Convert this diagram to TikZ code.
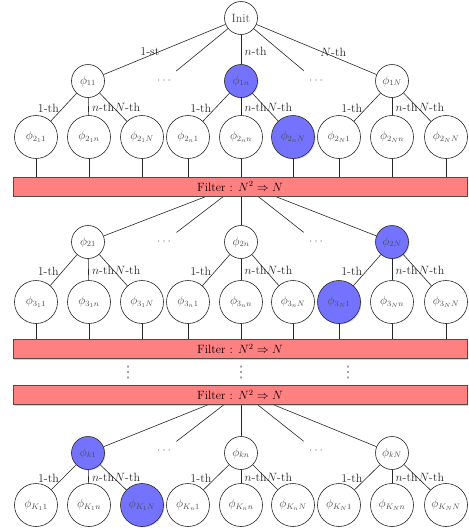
\documentclass[tikz,border=0pt]{standalone}
\usepackage{fontspec}
\newfontfamily\symfont{DejaVu Sans}
\usetikzlibrary{shadows,backgrounds}
\begin{document}
\begin{tikzpicture}[x=1pt,y=-1pt,
  every node/.style={font=\fontsize{12}{14}\selectfont},
  nd/.style={circle, draw=black!85, fill=white, minimum size=33pt, inner sep=0pt, text=black!70, line width=0.6pt},
  lf/.style={circle, draw=black!85, fill=white, minimum size=43pt, inner sep=0pt, text=black!70, line width=0.6pt},
  hl/.style={fill=blue!55, drop shadow={opacity=0.35, shadow xshift=1pt, shadow yshift=-1pt}},
  dotsnode/.style={circle, minimum size=31pt, inner sep=0pt, text=black!55},
  vdotsnode/.style={inner sep=0pt, text=black!45, font=\symfont\fontsize{16}{18}\selectfont},
  filterbar/.style={rectangle, draw=black!70, fill=red!50, minimum width=454pt, minimum height=19pt, inner sep=0pt, line width=0.6pt, drop shadow={opacity=0.35, shadow xshift=1pt, shadow yshift=-1.2pt}},
  conn/.style={draw=black!85, line width=0.6pt},
  lbl/.style={text=black!85}
]
\useasboundingbox (0,0) rectangle (469,531);

% ---------------- Tier 1 ----------------
\node[nd] (init) at (241,18) {Init};
\node[nd] (a1) at (88,81) {$\phi_{11}$};
\node[dotsnode] (ad1) at (164,81) {$\cdots$};
\node[nd,hl] (an) at (241,81) {$\phi_{1n}$};
\node[dotsnode] (ad2) at (316,81) {$\cdots$};
\node[nd] (aN) at (392,81) {$\phi_{1N}$};

\node[lf] (b1) at (36,137) {$\phi_{2_1 1}$};
\node[lf] (b2) at (89,137) {$\phi_{2_1 n}$};
\node[lf] (b3) at (142,137) {$\phi_{2_1 N}$};
\node[lf] (b4) at (188,137) {$\phi_{2_n 1}$};
\node[lf] (b5) at (241,137) {$\phi_{2_n n}$};
\node[lf,hl] (b6) at (293,137) {$\phi_{2_n N}$};
\node[lf] (b7) at (339,137) {$\phi_{2_N 1}$};
\node[lf] (b8) at (392,137) {$\phi_{2_N n}$};
\node[lf] (b9) at (446,137) {$\phi_{2_N N}$};

\draw[conn] (init) -- node[lbl,pos=0.62,yshift=4pt]{1-st} (a1);
\draw[conn] (init) -- (ad1);
\draw[conn] (init) -- node[lbl,right,pos=0.55]{$n$-th} (an);
\draw[conn] (init) -- (ad2);
\draw[conn] (init) -- node[lbl,pos=0.64,yshift=4pt]{$N$-th} (aN);

\draw[conn] (a1) -- node[lbl,left,pos=0.55]{1-th} (b1);
\draw[conn] (a1) -- node[lbl,right,pos=0.55]{$n$-th} (b2);
\draw[conn] (a1) -- node[lbl,right,inner sep=1pt,pos=0.5]{$N$-th} (b3);
\draw[conn] (an) -- node[lbl,left,pos=0.55]{1-th} (b4);
\draw[conn] (an) -- node[lbl,right,pos=0.55]{$n$-th} (b5);
\draw[conn] (an) -- node[lbl,right,inner sep=1pt,pos=0.5]{$N$-th} (b6);
\draw[conn] (aN) -- node[lbl,left,pos=0.55]{1-th} (b7);
\draw[conn] (aN) -- node[lbl,right,pos=0.55]{$n$-th} (b8);
\draw[conn] (aN) -- node[lbl,right,inner sep=1pt,pos=0.5]{$N$-th} (b9);

\node[filterbar] (f1) at (240,186.5) {Filter : $N^2 \Rightarrow N$};
\foreach \b in {b1,b2,b3,b4,b5,b6,b7,b8,b9}
  \draw[conn] (\b) -- (\b |- f1.north);

% ---------------- Tier 2 ----------------
\coordinate (h1) at (241,183);
\node[nd] (c1) at (88,242) {$\phi_{21}$};
\node[dotsnode] (cd1) at (164,242) {$\cdots$};
\node[nd] (cn) at (241,242) {$\phi_{2n}$};
\node[dotsnode] (cd2) at (316,242) {$\cdots$};
\node[nd,hl] (cN) at (392,242) {$\phi_{2N}$};

\begin{scope}[on background layer]
\draw[conn] (h1) -- (c1);
\draw[conn] (h1) -- (cd1);
\draw[conn] (h1) -- (cn);
\draw[conn] (h1) -- (cd2);
\draw[conn] (h1) -- (cN);
\end{scope}

\node[lf] (d1) at (36,302) {$\phi_{3_1 1}$};
\node[lf] (d2) at (89,302) {$\phi_{3_1 n}$};
\node[lf] (d3) at (142,302) {$\phi_{3_1 N}$};
\node[lf] (d4) at (188,302) {$\phi_{3_n 1}$};
\node[lf] (d5) at (241,302) {$\phi_{3_n n}$};
\node[lf] (d6) at (293,302) {$\phi_{3_n N}$};
\node[lf,hl] (d7) at (339,302) {$\phi_{3_N 1}$};
\node[lf] (d8) at (392,302) {$\phi_{3_N n}$};
\node[lf] (d9) at (446,302) {$\phi_{3_N N}$};

\draw[conn] (c1) -- node[lbl,left,pos=0.55]{1-th} (d1);
\draw[conn] (c1) -- node[lbl,right,pos=0.55]{$n$-th} (d2);
\draw[conn] (c1) -- node[lbl,right,inner sep=1pt,pos=0.5]{$N$-th} (d3);
\draw[conn] (cn) -- node[lbl,left,pos=0.55]{1-th} (d4);
\draw[conn] (cn) -- node[lbl,right,pos=0.55]{$n$-th} (d5);
\draw[conn] (cn) -- node[lbl,right,inner sep=1pt,pos=0.5]{$N$-th} (d6);
\draw[conn] (cN) -- node[lbl,left,pos=0.55]{1-th} (d7);
\draw[conn] (cN) -- node[lbl,right,pos=0.55]{$n$-th} (d8);
\draw[conn] (cN) -- node[lbl,right,inner sep=1pt,pos=0.5]{$N$-th} (d9);

\node[filterbar] (f2) at (240,349) {Filter : $N^2 \Rightarrow N$};
\foreach \d in {d1,d2,d3,d4,d5,d6,d7,d8,d9}
  \draw[conn] (\d) -- (\d |- f2.north);

% vertical dots
\node[vdotsnode] (v1) at (128,373) {⋮};
\node[vdotsnode] (v2) at (241,373) {⋮};
\node[vdotsnode] (v3) at (348,373) {⋮};

% ---------------- Tier 3 ----------------
\node[filterbar] (f3) at (240,395) {Filter : $N^2 \Rightarrow N$};
\coordinate (h3) at (241,391.5);
\node[nd,hl] (e1) at (88,453) {$\phi_{k1}$};
\node[dotsnode] (ed1) at (164,451) {$\cdots$};
\node[nd] (en) at (241,453) {$\phi_{kn}$};
\node[dotsnode] (ed2) at (316,451) {$\cdots$};
\node[nd] (eN) at (392,453) {$\phi_{kN}$};

\begin{scope}[on background layer]
\draw[conn] (h3) -- (e1);
\draw[conn] (h3) -- (ed1);
\draw[conn] (h3) -- (en);
\draw[conn] (h3) -- (ed2);
\draw[conn] (h3) -- (eN);
\end{scope}

\node[lf] (g1) at (36,505) {$\phi_{K_1 1}$};
\node[lf] (g2) at (89,505) {$\phi_{K_1 n}$};
\node[lf,hl] (g3) at (142,505) {$\phi_{K_1 N}$};
\node[lf] (g4) at (188,505) {$\phi_{K_n 1}$};
\node[lf] (g5) at (241,505) {$\phi_{K_n n}$};
\node[lf] (g6) at (293,505) {$\phi_{K_n N}$};
\node[lf] (g7) at (339,505) {$\phi_{K_N 1}$};
\node[lf] (g8) at (392,505) {$\phi_{K_N n}$};
\node[lf] (g9) at (446,505) {$\phi_{K_N N}$};

\draw[conn] (e1) -- node[lbl,left,pos=0.55]{1-th} (g1);
\draw[conn] (e1) -- node[lbl,right,pos=0.55]{$n$-th} (g2);
\draw[conn] (e1) -- node[lbl,right,inner sep=1pt,pos=0.5]{$N$-th} (g3);
\draw[conn] (en) -- node[lbl,left,pos=0.55]{1-th} (g4);
\draw[conn] (en) -- node[lbl,right,pos=0.55]{$n$-th} (g5);
\draw[conn] (en) -- node[lbl,right,inner sep=1pt,pos=0.5]{$N$-th} (g6);
\draw[conn] (eN) -- node[lbl,left,pos=0.55]{1-th} (g7);
\draw[conn] (eN) -- node[lbl,right,pos=0.55]{$n$-th} (g8);
\draw[conn] (eN) -- node[lbl,right,inner sep=1pt,pos=0.5]{$N$-th} (g9);
\end{tikzpicture}
\end{document}
